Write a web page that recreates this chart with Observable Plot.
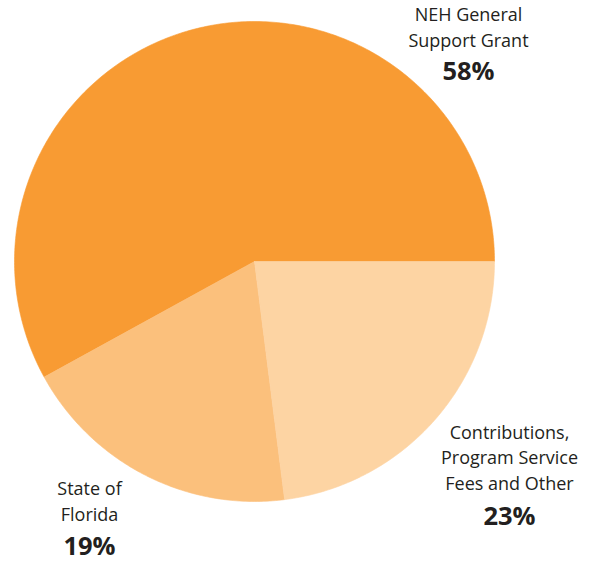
<!DOCTYPE html>
<html>
<head>
<meta charset="utf-8">
<script src="https://cdn.jsdelivr.net/npm/d3@7"></script>
<script src="https://cdn.jsdelivr.net/npm/@observablehq/plot@0.6"></script>
<style>
  html, body { margin: 0; padding: 0; background: #fff; }
  svg { display: block; }
</style>
</head>
<body>
<div id="chart"></div>
<script>
const categories = ["NEH General Support Grant", "State of Florida", "Contributions, Program Service Fees and Other"];
const values = [58, 19, 23];
const labelLines = ["NEH General\nSupport Grant", "State of\nFlorida", "Contributions,\nProgram Service\nFees and Other"];
const pctLabels = ["58%", "19%", "23%"];
const colors = ["#F89B33", "#FBC07C", "#FDD4A3"];

// Pie geometry from d3.pie: start at 3 o'clock, running counterclockwise
const arcs = d3.pie().sort(null).startAngle(Math.PI / 2).endAngle(Math.PI / 2 - 2 * Math.PI)(values);
const pts = [];
arcs.forEach((a, i) => {
  const cat = categories[i];
  pts.push({cat, x: 0, y: 0});
  const n = Math.max(4, Math.round(Math.abs(a.endAngle - a.startAngle) * 80));
  for (let k = 0; k <= n; k++) {
    const t = a.startAngle + (a.endAngle - a.startAngle) * k / n;
    pts.push({cat, x: Math.sin(t), y: Math.cos(t)});
  }
  pts.push({cat, x: 0, y: 0});
});

// Label layout (pixel anchors)
const labelLayout = [
  {px: 468, nameBase: 46, pctBase: 79},
  {px: 89, nameBase: 520, pctBase: 554},
  {px: 509, nameBase: 489, pctBase: 524}
];
const labels = categories.map((c, i) => ({cat: c, name: labelLines[i], pct: pctLabels[i], ...labelLayout[i]}));

const font = "'Open Sans', 'Noto Sans', sans-serif";
const chart = Plot.plot({
  width: 597,
  height: 561,
  margin: 0,
  style: {fontFamily: font, background: "#fff"},
  x: {domain: [-1, 1], range: [14, 494], axis: null},
  y: {domain: [-1, 1], range: [501, 21], axis: null},
  color: {domain: categories, range: colors},
  marks: [
    Plot.line(pts, {x: "x", y: "y", z: "cat", fill: "cat", stroke: "cat", strokeWidth: 0.6, curve: "linear"}),
    Plot.text(labels, {
      x: d => (d.px - 254) / 240, y: d => (261 - d.nameBase) / 240,
      text: "name", textAnchor: "middle", lineAnchor: "bottom", lineHeight: 1.4,
      fontSize: 18, fill: "#231F20"
    }),
    Plot.text(labels, {
      x: d => (d.px - 254) / 240, y: d => (261 - d.pctBase) / 240,
      text: "pct", textAnchor: "middle", lineAnchor: "bottom",
      fontSize: 25.5, fontWeight: "bold", fill: "#231F20"
    })
  ]
});
document.getElementById("chart").appendChild(chart);
</script>
</body>
</html>
